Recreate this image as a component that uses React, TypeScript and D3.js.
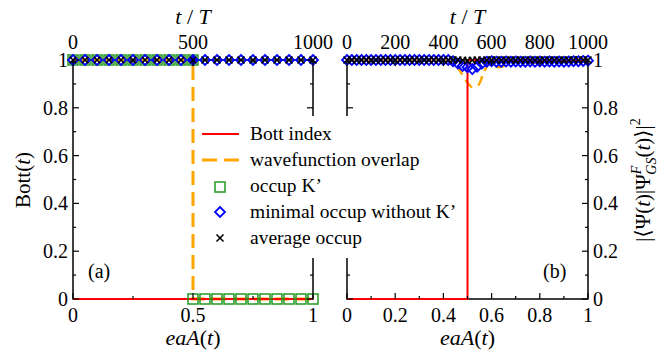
import * as d3 from "d3";

// panel (a): sampling grid for markers (step 0.05)
const aGrid = [0, 0.05, 0.1, 0.15, 0.2, 0.25, 0.3, 0.35, 0.4, 0.45, 0.5, 0.55, 0.6, 0.65, 0.7, 0.75, 0.8, 0.85, 0.9, 0.95, 1];
const aMinOccup = [1, 1, 1, 1, 1, 1, 1, 1, 1, 1, 1, 1, 1, 1, 1, 1, 1, 1, 1, 1, 1];
const aAvgOccup = [1, 1, 1, 1, 1, 1, 1, 1, 1, 1, 1, 1, 1, 1, 1, 1, 1, 1, 1, 1, 1];
const aOccupKX = [0, 0.05, 0.1, 0.15, 0.2, 0.25, 0.3, 0.35, 0.4, 0.45, 0.5, 0.5, 0.55, 0.6, 0.65, 0.7, 0.75, 0.8, 0.85, 0.9, 0.95, 1];
const aOccupK = [1, 1, 1, 1, 1, 1, 1, 1, 1, 1, 1, 0, 0, 0, 0, 0, 0, 0, 0, 0, 0, 0];
const aBottX = [0, 1];
const aBott = [0, 0];
const aOverlapX = [0, 0.5, 0.5, 1];
const aOverlap = [1, 1, 0, 0];

// panel (b): sampling grid (step 0.02)
const bGrid = [0, 0.02, 0.04, 0.06, 0.08, 0.1, 0.12, 0.14, 0.16, 0.18, 0.2, 0.22, 0.24, 0.26, 0.28, 0.3, 0.32, 0.34, 0.36, 0.38, 0.4, 0.42, 0.44, 0.46, 0.48, 0.5, 0.52, 0.54, 0.56, 0.58, 0.6, 0.62, 0.64, 0.66, 0.68, 0.7, 0.72, 0.74, 0.76, 0.78, 0.8, 0.82, 0.84, 0.86, 0.88, 0.9, 0.92, 0.94, 0.96, 0.98, 1];
const bMinOccup = [1, 1, 1, 1, 1, 1, 1, 1, 1, 1, 1, 1, 1, 1, 1, 1, 1, 1, 1, 1, 1, 1, 0.995, 0.985, 0.975, 0.97, 0.962, 0.972, 0.985, 0.993, 0.995, 0.993, 0.993, 0.994, 0.993, 0.994, 0.993, 0.993, 0.994, 0.993, 0.994, 0.993, 0.994, 0.993, 0.994, 0.993, 0.994, 0.995, 0.995, 0.996, 0.997];
const bAvgOccup = [1, 1, 1, 1, 1, 1, 1, 1, 1, 1, 1, 1, 1, 1, 1, 1, 1, 1, 1, 1, 1, 1, 1, 1, 0.999, 0.998, 0.999, 1, 1, 1, 1, 1, 1, 1, 1, 1, 1, 1, 1, 1, 1, 1, 1, 1, 1, 1, 1, 1, 1, 1, 1];
const bBottX = [0, 0.5, 0.5, 1];
const bBott = [0, 0, 1, 1];
const bOverlapX = [0, 0.42, 0.45, 0.48, 0.5, 0.52, 0.545, 0.565, 0.59, 0.61, 0.63, 0.65, 0.67, 0.7, 0.73, 0.76, 0.8, 0.85, 0.9, 1];
const bOverlap = [1, 0.999, 0.98, 0.937, 0.905, 0.887, 0.895, 0.94, 0.985, 0.975, 0.97, 0.975, 0.99, 0.995, 0.988, 0.986, 0.992, 0.995, 0.998, 1];

const legendItems = ["Bott index", "wavefunction overlap", "occup K\u2019", "minimal occup without K\u2019", "average occup"];

const FONT = "'Liberation Serif', 'DejaVu Serif', serif";
const RED = "#ff0000";
const ORANGE = "#ffa500";
const GREEN = "#229922";
const BLUE = "#0000ff";

const TOP = 60;
const BOTTOM = 299;

const Square = ({ x, y }: { x: number; y: number }) => (
  <rect x={x - 5} y={y - 5} width={10} height={10} fill="none" stroke={GREEN} strokeWidth={1.5} />
);
const Diamond = ({ x, y, fill = "none" }: { x: number; y: number; fill?: string }) => (
  <path d={`M${x},${y - 5}L${x + 5},${y}L${x},${y + 5}L${x - 5},${y}Z`} fill={fill} stroke={BLUE} strokeWidth={1.8} />
);
const Cross = ({ x, y }: { x: number; y: number }) => (
  <path d={`M${x - 3.5},${y - 3.5}L${x + 3.5},${y + 3.5}M${x - 3.5},${y + 3.5}L${x + 3.5},${y - 3.5}`} stroke="#000" strokeWidth={1.6} />
);

type PanelProps = {
  left: number;
  right: number;
  xMajor: number[];
  xMinor: number[];
  tMajor: number[];
  tMinor: number[];
  labelSide: "left" | "right";
  tag: string;
  tagX: number;
  children: (x: d3.ScaleLinear<number, number>, y: d3.ScaleLinear<number, number>) => React.ReactNode;
};

function Panel({ left, right, xMajor, xMinor, tMajor, tMinor, labelSide, tag, tagX, children }: PanelProps) {
  const x = d3.scaleLinear().domain([0, 1]).range([left, right]);
  const t = d3.scaleLinear().domain([0, 1000]).range([left, right]);
  const y = d3.scaleLinear().domain([0, 1]).range([BOTTOM, TOP]);
  const yMajor = y.ticks(5);
  const yMinor = d3.range(1, 10, 2).map((d) => d / 10);
  const fmt = (d: number) => (d === 0 || d === 1 ? String(d) : d3.format(".1f")(d).replace(/0+$/, ""));
  const mid = (left + right) / 2;
  return (
    <g fontFamily={FONT}>
      <rect x={left} y={TOP} width={right - left} height={BOTTOM - TOP} fill="none" stroke="#000" strokeWidth={1.5} />
      {children(x, y)}
      {xMajor.map((d) => (
        <g key={"xb" + d}>
          <line x1={x(d)} x2={x(d)} y1={BOTTOM} y2={BOTTOM - 6} stroke="#000" strokeWidth={1.2} />
          <text x={x(d)} y={BOTTOM + 23} fontSize={20} textAnchor="middle">{fmt(d)}</text>
        </g>
      ))}
      {xMinor.map((d) => (
        <line key={"xm" + d} x1={x(d)} x2={x(d)} y1={BOTTOM} y2={BOTTOM - 3} stroke="#000" strokeWidth={1.2} />
      ))}
      {tMajor.map((d) => (
        <g key={"tb" + d}>
          <line x1={t(d)} x2={t(d)} y1={TOP} y2={TOP + 6} stroke="#000" strokeWidth={1.2} />
          <text x={t(d)} y={TOP - 11} fontSize={20} textAnchor="middle">{d}</text>
        </g>
      ))}
      {tMinor.map((d) => (
        <line key={"tm" + d} x1={t(d)} x2={t(d)} y1={TOP} y2={TOP + 3} stroke="#000" strokeWidth={1.2} />
      ))}
      {yMajor.map((d) => (
        <g key={"y" + d}>
          <line x1={left} x2={left + 6} y1={y(d)} y2={y(d)} stroke="#000" strokeWidth={1.2} />
          <line x1={right} x2={right - 6} y1={y(d)} y2={y(d)} stroke="#000" strokeWidth={1.2} />
          {labelSide === "left" ? (
            <text x={left - 5} y={y(d)} dy="0.35em" fontSize={20} textAnchor="end">{fmt(d)}</text>
          ) : (
            <text x={right + 5} y={y(d)} dy="0.35em" fontSize={20} textAnchor="start">{fmt(d)}</text>
          )}
        </g>
      ))}
      {yMinor.map((d) => (
        <g key={"ym" + d}>
          <line x1={left} x2={left + 3} y1={y(d)} y2={y(d)} stroke="#000" strokeWidth={1.2} />
          <line x1={right} x2={right - 3} y1={y(d)} y2={y(d)} stroke="#000" strokeWidth={1.2} />
        </g>
      ))}
      <text x={mid} y={24} fontSize={22} textAnchor="middle">
        <tspan fontStyle="italic">t</tspan> / <tspan fontStyle="italic">T</tspan>
      </text>
      <text x={mid} y={345} fontSize={22} textAnchor="middle">
        <tspan fontStyle="italic">eaA</tspan>(<tspan fontStyle="italic">t</tspan>)
      </text>
      <text x={tagX} y={278} fontSize={20}>{tag}</text>
    </g>
  );
}

export default function App() {
  const lineA = (xs: number[], ys: number[], x: any, y: any, curve = d3.curveLinear) =>
    d3.line<number>().x((_, i) => x(xs[i])).y((d) => y(d)).curve(curve)(ys) || "";

  return (
    <svg width={668} height={354} style={{ position: "absolute", left: 0, top: 0 }}>
      <rect width={668} height={354} fill="#fff" />
      <Panel
        left={73}
        right={313}
        xMajor={[0, 0.5, 1]}
        xMinor={[0.25, 0.75]}
        tMajor={[0, 500, 1000]}
        tMinor={[250, 750]}
        labelSide="left"
        tag="(a)"
        tagX={88}
      >
        {(x, y) => (
          <g>
            <path d={lineA(aOverlapX, aOverlap, x, y)} fill="none" stroke={ORANGE} strokeWidth={3} strokeDasharray="14 7" />
            <path d={lineA(aBottX, aBott, x, y)} fill="none" stroke={RED} strokeWidth={2} />
            {aOccupK.map((v, i) => <Square key={"s" + i} x={x(aOccupKX[i])} y={y(v)} />)}
            {aMinOccup.map((v, i) => (
              <Diamond key={"d" + i} x={x(aGrid[i])} y={y(v)} fill={aGrid[i] === 0.5 ? BLUE : "none"} />
            ))}
            {aAvgOccup.map((v, i) => <Cross key={"c" + i} x={x(aGrid[i])} y={y(v)} />)}
          </g>
        )}
      </Panel>
      <Panel
        left={347}
        right={588}
        xMajor={[0, 0.2, 0.4, 0.6, 0.8, 1]}
        xMinor={[0.1, 0.3, 0.5, 0.7, 0.9]}
        tMajor={[0, 200, 400, 600, 800, 1000]}
        tMinor={[100, 300, 500, 700, 900]}
        labelSide="right"
        tag="(b)"
        tagX={543}
      >
        {(x, y) => (
          <g>
            <path d={lineA(bOverlapX, bOverlap, x, y, d3.curveMonotoneX)} fill="none" stroke={ORANGE} strokeWidth={2.5} strokeDasharray="10 6" />
            <path d={lineA(bBottX, bBott, x, y)} fill="none" stroke={RED} strokeWidth={2} />
            {bMinOccup.map((v, i) => <Diamond key={"d" + i} x={x(bGrid[i])} y={y(v)} />)}
            {bAvgOccup.map((v, i) => <Cross key={"c" + i} x={x(bGrid[i])} y={y(v)} />)}
          </g>
        )}
      </Panel>

      {/* y-axis titles */}
      <text transform="translate(30,180) rotate(-90)" fontFamily={FONT} fontSize={21} textAnchor="middle">
        Bott(<tspan fontStyle="italic">t</tspan>)
      </text>
      <text transform="translate(650,180) rotate(-90)" fontFamily={FONT} fontSize={21} textAnchor="middle">
        |{"\u27E8"}{"\u03A8"}(<tspan fontStyle="italic">t</tspan>)|{"\u03A8"}
        <tspan fontStyle="italic" fontSize={14} dy={-9}>F</tspan>
        <tspan fontStyle="italic" fontSize={14} dx={-9} dy={15}>GS</tspan>
        <tspan dy={-6}>(</tspan>
        <tspan fontStyle="italic">t</tspan>){"\u27E9"}|
        <tspan fontSize={14} dy={-10}>2</tspan>
      </text>

      {/* legend: white box hides the inner frames, stops short of the Bott jump in (b) */}
      <g fontFamily={FONT}>
        <rect x={197} y={116} width={266} height={142} fill="#fff" />
        {legendItems.map((label, i) => {
          const by = 140 + i * 26;
          const cy = by - 6;
          return (
            <g key={label}>
              {i === 0 && <line x1={202} x2={239} y1={cy} y2={cy} stroke={RED} strokeWidth={2} />}
              {i === 1 && <line x1={202} x2={239} y1={cy} y2={cy} stroke={ORANGE} strokeWidth={3} strokeDasharray="15 7" />}
              {i === 2 && <Square x={220} y={cy + 1} />}
              {i === 3 && <Diamond x={220} y={cy} />}
              {i === 4 && <Cross x={220} y={cy} />}
              <text x={250} y={by} fontSize={19.5}>{label}</text>
            </g>
          );
        })}
      </g>
    </svg>
  );
}
